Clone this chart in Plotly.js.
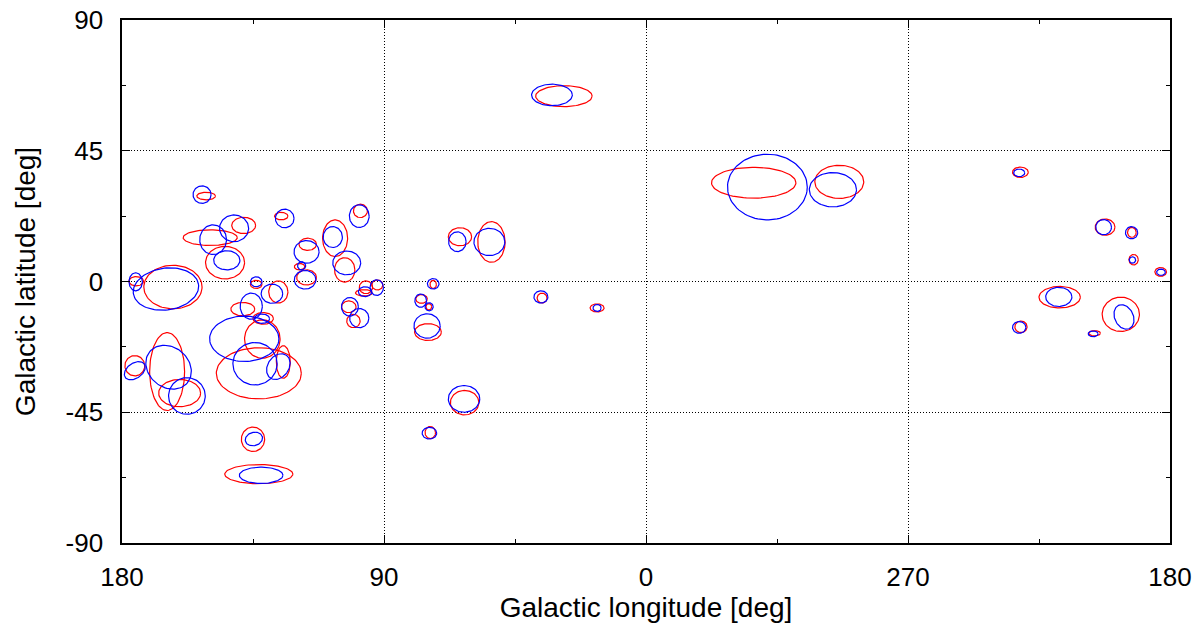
<!DOCTYPE html>
<html><head><meta charset="utf-8">
<script src="https://cdn.plot.ly/plotly-3.0.1.min.js"></script>
<style>html,body{margin:0;padding:0;background:#fff}#chart{width:1204px;height:635px}</style>
</head><body><div id="chart"></div>
<script>
// Blue ellipses: galactic longitude/latitude of centre, semi-axes (deg), tilt (deg)
const blueL=[152.5,124.1,141.5,148.7,144.0,175.3,164.9,133.9,128.5,135.6,131.9,138.0,134.3,126.3,175.6,164.0,157.7,134.7,132.2,107.6,98.5,116.6,102.8,118.3,117.1,101.7,98.5,96.5,92.5,73.1,77.4,74.5,75.2,64.8,53.8,62.5,74.4,32.3,36.1,16.8,318.3,295.8,231.8,202.8,193.2,192.9,183.1,218.2,195.8,231.8,206.4];
const blueB=[29.9,21.7,18.3,14.4,7.3,-0.1,-2.6,-0.1,-4.2,-8.5,-12.8,-19.7,-28.3,-29.3,-30.7,-29.5,-39.4,-54.2,-66.7,15.3,22.5,10.2,6.4,5.4,0.6,-8.7,-12.6,-3.5,-2.1,-0.8,-6.6,-8.7,-15.3,13.7,13.6,-40.4,-52.2,64.2,-5.3,-9.1,32.5,31.6,37.4,18.7,16.8,7.4,3.2,-5.3,-12.2,-15.8,-18.0];
const blueA=[3.1,3.2,5.0,4.6,4.5,2.3,11.3,2.0,3.7,3.8,2.6,11.9,7.6,4.8,4.0,8.4,6.3,3.0,7.5,3.3,3.4,4.3,4.8,1.4,3.7,2.9,3.3,2.3,2.3,2.0,2.0,1.4,4.5,3.0,5.3,5.4,2.5,7.0,2.4,1.4,13.7,8.1,1.9,2.7,2.1,1.1,1.5,4.5,4.4,2.3,1.7];
const blueC=[3.0,3.2,4.6,5.1,3.3,3.1,7.2,1.7,3.3,4.5,1.6,7.8,7.3,3.6,2.6,6.9,6.3,2.3,2.8,3.6,3.9,3.9,4.1,1.4,3.2,3.2,3.3,1.7,2.7,1.8,2.3,1.4,4.2,3.4,4.7,4.6,2.0,3.7,2.1,1.2,11.3,5.9,1.3,2.6,2.1,1.1,1.1,3.3,3.2,2.0,1.0];
const blueT=[0,0,0,0,0,0,8,0,0,0,0,0,0,55,35,-40,0,15,0,0,0,0,0,0,0,0,0,0,0,0,0,0,0,0,0,0,0,0,0,0,0,0,0,0,0,0,0,0,-65,0,0];

// Red ellipses
const redL=[151.1,125.3,138.2,149.7,144.6,175.1,162.5,133.9,126.3,138.5,131.5,131.8,133.0,124.6,175.6,164.5,160.2,135.0,133.0,106.8,98.1,116.2,103.5,119.0,116.6,102.1,100.5,96.9,96.2,92.3,73.1,77.1,74.6,74.9,63.9,53.1,62.3,74.1,28.2,35.7,16.8,323.0,293.6,231.4,202.3,193.1,192.5,183.2,217.9,196.9,231.2,205.9];
const redB=[29.4,22.5,19.3,15.1,6.5,0.1,-1.9,-1.0,-3.6,-9.5,-12.7,-19.8,-31.6,-27.7,-29.0,-31.0,-38.4,-54.3,-66.3,14.9,24.3,12.8,4.0,5.1,1.4,-8.7,-13.6,-3.9,-2.0,-1.2,-1.0,-6.0,-8.7,-17.4,15.4,13.6,-41.7,-52.0,63.8,-5.7,-9.1,34.0,34.3,37.6,18.7,16.9,7.5,3.3,-5.4,-11.3,-15.6,-17.8];
const redA=[3.2,2.3,4.1,9.3,6.7,2.5,10.0,2.0,3.3,4.1,3.5,6.1,14.6,2.4,3.4,6.0,7.2,4.0,11.7,4.3,2.4,3.0,3.5,1.8,3.4,2.5,2.3,2.9,2.3,1.9,1.1,2.0,1.0,4.6,4.0,4.7,4.9,1.8,9.7,1.7,2.4,14.5,8.4,2.7,3.4,1.5,1.6,2.0,7.1,6.4,2.1,2.0];
const redC=[1.3,1.3,2.8,2.7,5.6,1.6,7.5,1.4,3.8,2.3,2.0,6.6,8.8,5.6,3.5,13.4,4.7,4.2,3.3,6.3,2.3,2.1,4.2,1.1,2.6,2.0,2.3,1.1,2.2,1.7,1.4,1.5,1.1,2.9,3.1,7.0,4.2,2.1,3.6,1.7,1.4,5.3,5.7,1.8,2.8,1.7,1.8,1.5,3.7,5.9,2.0,0.9];

// Axis ticks
const xTickVals=[180,90,0,-90,-180];
const xTickText=['180','90','0','270','180'];
const xMinorVals=[135,45,-45,-135];
const yTickVals=[-90,-45,0,45,90];
const yTickText=['-90','-45','0','45','90'];
const yMinorVals=[-67.5,-22.5,22.5,67.5];

function toX(l){return l>180?l-360:l;}
function outline(L,B,A,C,T){
  const xs=[],ys=[],N=90;
  for(let i=0;i<L.length;i++){
    const th=(T?T[i]:0)*Math.PI/180;
    for(let k=0;k<=N;k++){
      const t=2*Math.PI*k/N;
      const dx=A[i]*Math.cos(t)*Math.cos(th)-C[i]*Math.sin(t)*Math.sin(th);
      const dy=A[i]*Math.cos(t)*Math.sin(th)+C[i]*Math.sin(t)*Math.cos(th);
      xs.push(toX(L[i])-dx); ys.push(B[i]+dy);
    }
    xs.push(null); ys.push(null);
  }
  return {xs,ys};
}
const r=outline(redL,redB,redA,redC,null);
const b=outline(blueL,blueB,blueA,blueC,blueT);
const traces=[
  {type:'scatter',mode:'lines',x:r.xs,y:r.ys,line:{color:'#ff0000',width:1.2},hoverinfo:'skip',showlegend:false,connectgaps:false},
  {type:'scatter',mode:'lines',x:b.xs,y:b.ys,line:{color:'#0000ff',width:1.2},hoverinfo:'skip',showlegend:false,connectgaps:false}
];
const tickFont={family:'Liberation Sans, Arial, sans-serif',size:26,color:'#000'};
const titleFont={family:'Liberation Sans, Arial, sans-serif',size:28,color:'#000'};
const axisCommon={
  showline:true,linecolor:'#000',linewidth:1.6,mirror:'ticks',
  ticks:'inside',ticklen:8,tickwidth:1,tickcolor:'#000',
  showgrid:true,gridcolor:'#000',gridwidth:1,griddash:'1px,2px',zeroline:false,
  tickfont:tickFont,fixedrange:true
};
const layout={
  width:1204,height:635,
  margin:{l:122,r:34,t:20,b:92},
  paper_bgcolor:'#fff',plot_bgcolor:'#fff',
  font:tickFont,
  xaxis:Object.assign({},axisCommon,{
    range:[180,-180],tickmode:'array',tickvals:xTickVals,ticktext:xTickText,
    ticklabelstandoff:10,
    minor:{tickmode:'array',tickvals:xMinorVals,ticks:'inside',ticklen:4,tickcolor:'#000',showgrid:false},
    title:{text:'Galactic longitude [deg]',font:titleFont,standoff:4}
  }),
  yaxis:Object.assign({},axisCommon,{
    range:[-90,90],tickmode:'array',tickvals:yTickVals,ticktext:yTickText,
    ticklabelstandoff:12,
    minor:{tickmode:'array',tickvals:yMinorVals,ticks:'inside',ticklen:4,tickcolor:'#000',showgrid:false},
    title:{text:'Galactic latitude [deg]',font:titleFont,standoff:22}
  })
};
Plotly.newPlot('chart',traces,layout,{staticPlot:true,displayModeBar:false});
</script></body></html>
